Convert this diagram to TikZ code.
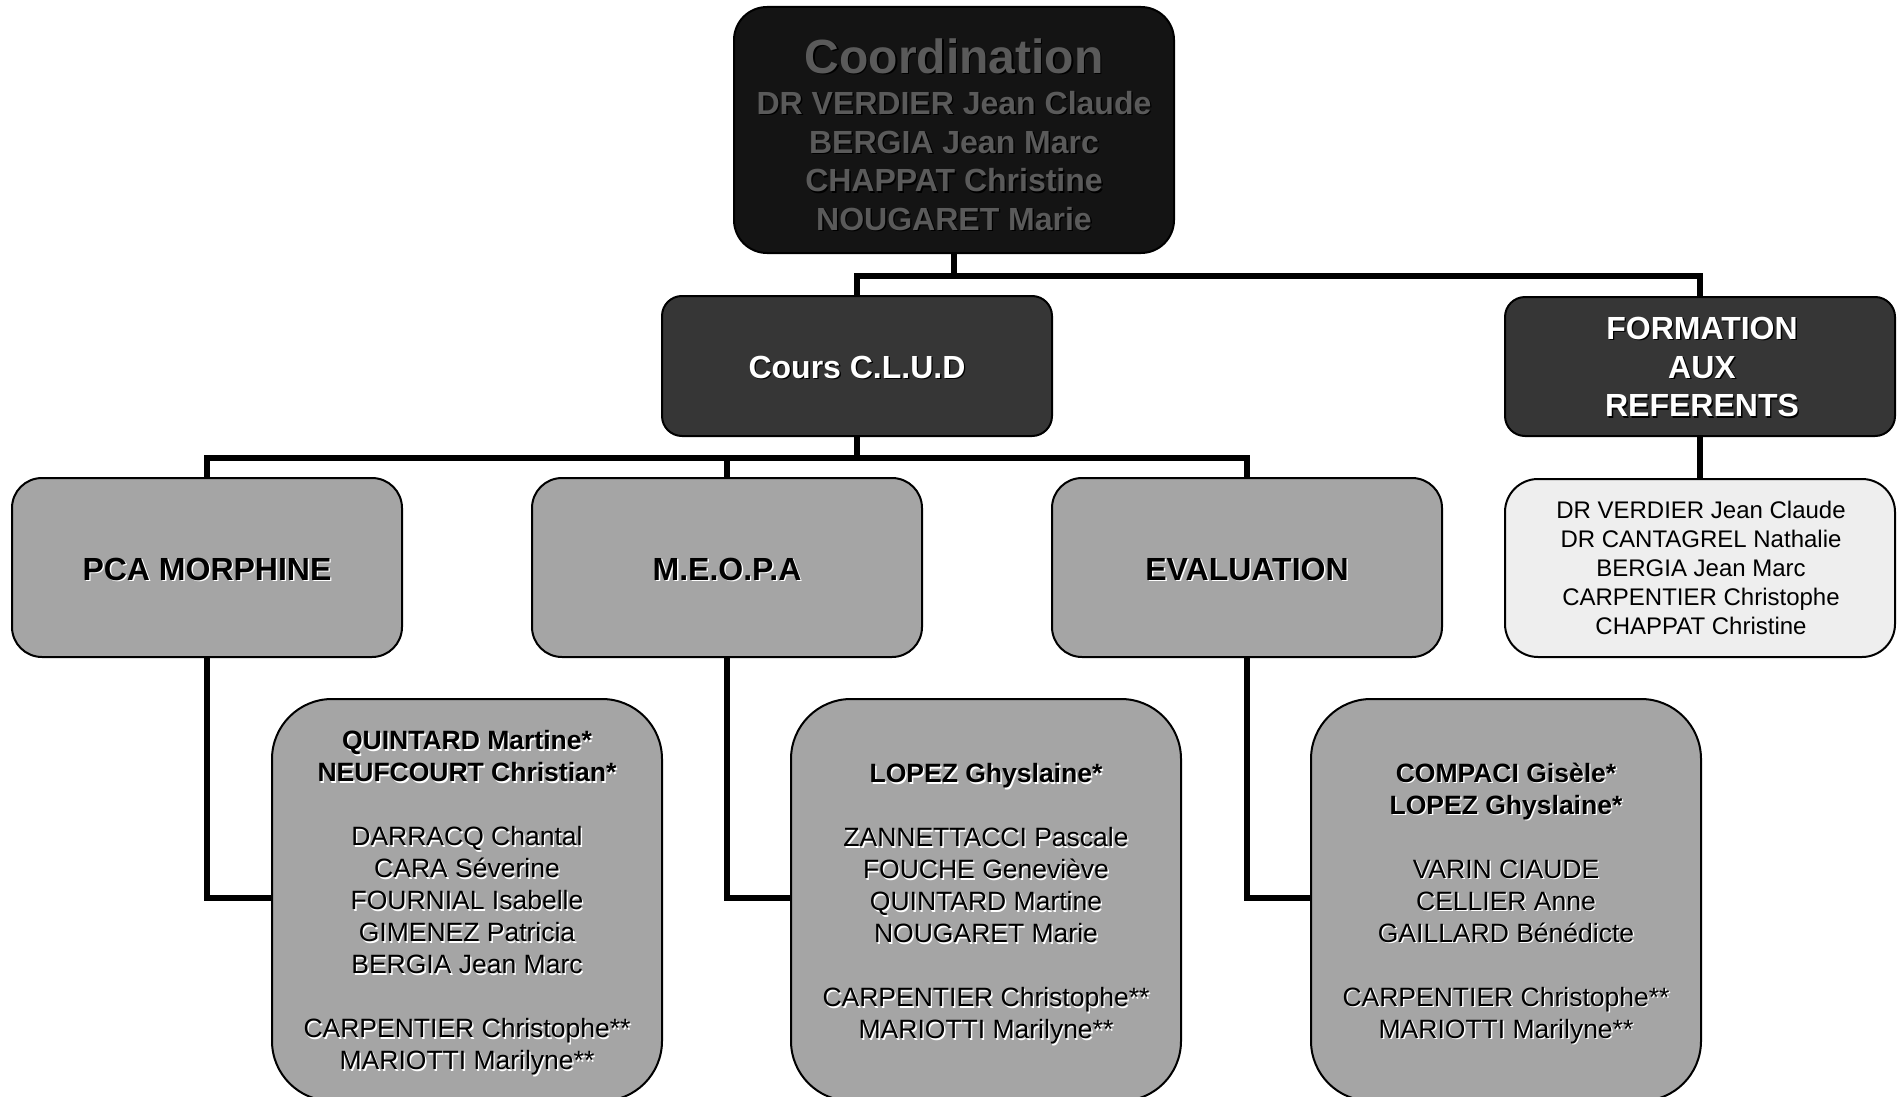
\documentclass[tikz,border=0pt]{standalone}
\usepackage{fontspec}
\setmainfont{Liberation Sans}
\usetikzlibrary{calc}
\definecolor{coordfill}{HTML}{141414}
\definecolor{coordtext}{HTML}{5A5A5A}
\definecolor{darkfill}{HTML}{363636}
\definecolor{midfill}{HTML}{A5A5A5}
\definecolor{lightfill}{HTML}{EEEEEE}
\newcommand{\shtext}[5]{%
  \node[#3,text=#4] (#1s) at ([shift={(1.4,1.4)}]#2) {#5};
  \node[#3] (#1) at (#2) {#5};}
\begin{document}
\begin{tikzpicture}[x=1pt,y=-1pt,
  bx/.style={draw=black,line width=2pt,inner sep=0pt,minimum width=390pt},
  conn/.style={line width=6pt,draw=black},
  hdr/.style={font=\fontsize{32}{38.6}\selectfont\bfseries,align=center,inner sep=0pt},
  mem/.style={font=\fontsize{26.5}{32}\selectfont,align=center,inner sep=0pt,anchor=north},
  refs/.style={font=\fontsize{24}{28.8}\selectfont,align=center,inner sep=0pt}]
\useasboundingbox (0,0) rectangle (1898,1097);
\clip (0,0) rectangle (1898,1097);
\fill[white] (0,0) rectangle (1898,1097);

% boxes
\node[bx,fill=coordfill,rounded corners=33pt,minimum width=440pt,minimum height=246pt] (coord) at (954,130) {};
\node[bx,fill=darkfill,rounded corners=20pt,minimum height=140pt] (clud) at (857,366) {};
\node[bx,fill=darkfill,rounded corners=20pt,minimum height=139pt] (form) at (1700,366.5) {};
\node[bx,fill=midfill,rounded corners=30pt,minimum height=179pt] (pca) at (207,567.5) {};
\node[bx,fill=midfill,rounded corners=30pt,minimum height=179pt] (meopa) at (727,567.5) {};
\node[bx,fill=midfill,rounded corners=30pt,minimum height=179pt] (eval) at (1247,567.5) {};
\node[bx,fill=lightfill,rounded corners=33pt,minimum height=178pt] (ref) at (1700,568) {};
\node[bx,fill=midfill,rounded corners=60pt,minimum height=402pt] (pcam) at (467,900) {};
\node[bx,fill=midfill,rounded corners=60pt,minimum height=402pt] (meopam) at (986,900) {};
\node[bx,fill=midfill,rounded corners=60pt,minimum height=402pt] (evalm) at (1506,900) {};

% connectors
\draw[conn] (coord.south) -- ++(0,22) -| (clud.north);
\draw[conn] (coord.south) -- ++(0,22) -| (form.north);
\draw[conn] (clud.south) -- ++(0,21) -| (pca.north);
\draw[conn] (clud.south) -- ++(0,21) -| (meopa.north);
\draw[conn] (clud.south) -- ++(0,21) -| (eval.north);
\draw[conn] (form.south) -- (ref.north);
\draw[conn] (pca.south) |- ($(pcam.north west)+(0,200)$);
\draw[conn] (meopa.south) |- ($(meopam.north west)+(0,200)$);
\draw[conn] (eval.south) |- ($(evalm.north west)+(0,200)$);

% texts
\shtext{coordT}{954,56}{font=\fontsize{48}{48}\selectfont\bfseries,inner sep=0pt,text=coordtext}{black}{Coordination}
\shtext{coordN}{954,161}{hdr,text=coordtext}{black}{DR VERDIER Jean Claude\\BERGIA Jean Marc\\CHAPPAT Christine\\NOUGARET Marie}
\shtext{cludT}{857,367}{hdr,text=white}{black}{Cours C.L.U.D}
\shtext{formT}{1702,367}{hdr,text=white}{black}{FORMATION\\AUX\\REFERENTS}
\shtext{pcaT}{207,569}{hdr,text=black}{white}{PCA MORPHINE}
\shtext{meopaT}{727,569}{hdr,text=black}{white}{M.E.O.P.A}
\shtext{evalT}{1247,569}{hdr,text=black}{white}{EVALUATION}
\node[refs] (refT) at (1701,568) {DR VERDIER Jean Claude\\DR CANTAGREL Nathalie\\BERGIA Jean Marc\\CARPENTIER Christophe\\CHAPPAT Christine};
\shtext{pcamT}{467,730.5}{mem}{white}{\textbf{QUINTARD Martine*}\\\textbf{NEUFCOURT Christian*}\\[32pt]DARRACQ Chantal\\CARA Séverine\\FOURNIAL Isabelle\\GIMENEZ Patricia\\BERGIA Jean Marc\\[32pt]CARPENTIER Christophe**\\MARIOTTI Marilyne**}
\shtext{meopamT}{986,763.5}{mem}{white}{\textbf{LOPEZ Ghyslaine*}\\[32pt]ZANNETTACCI Pascale\\FOUCHE Geneviève\\QUINTARD Martine\\NOUGARET Marie\\[32pt]CARPENTIER Christophe**\\MARIOTTI Marilyne**}
\shtext{evalmT}{1506,762.5}{mem}{white}{\textbf{COMPACI Gisèle*}\\\textbf{LOPEZ Ghyslaine*}\\[32pt]VARIN CIAUDE\\CELLIER Anne\\GAILLARD Bénédicte\\[32pt]CARPENTIER Christophe**\\MARIOTTI Marilyne**}
\end{tikzpicture}
\end{document}
